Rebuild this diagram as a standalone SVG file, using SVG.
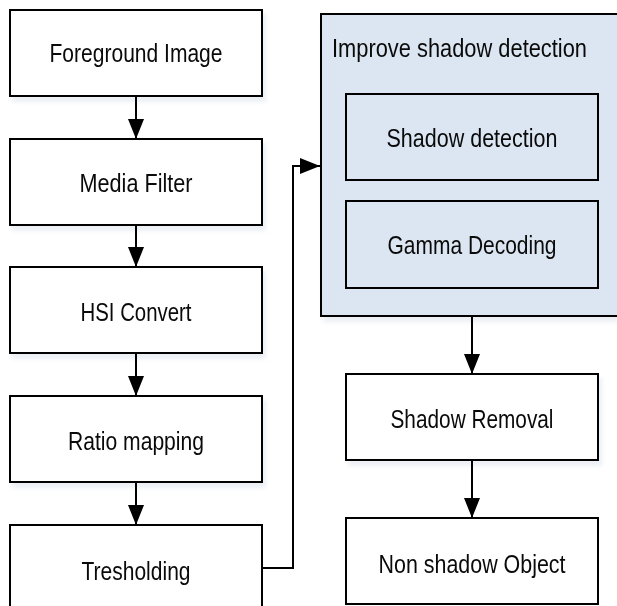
<svg xmlns="http://www.w3.org/2000/svg" width="617" height="606" viewBox="0 0 617 606">
  <style>
    .box { fill: #ffffff; stroke: #000000; stroke-width: 2; }
    .group { fill: #dce6f2; stroke: #000000; stroke-width: 2; }
    .inner { fill: #dce6f2; stroke: #000000; stroke-width: 2; }
    .shadow { fill: #dfe6ef; opacity: 0.6; }
    .label { font-family: "Liberation Sans Narrow", "Liberation Sans", Arial, sans-serif; font-size: 26px; fill: #0a0a0a; }
    .wire { fill: none; stroke: #000000; stroke-width: 2; }
  </style>
  <defs>
    <marker id="arrow" markerUnits="userSpaceOnUse" markerWidth="21" markerHeight="18" refX="20" refY="9" orient="auto">
      <path d="M0,1 L20,9 L0,17 Z" fill="#000000"/>
    </marker>
    <filter id="soft" x="-10%" y="-10%" width="120%" height="130%">
      <feGaussianBlur stdDeviation="2"/>
    </filter>
  </defs>

  <rect width="617" height="606" fill="#ffffff"/>

  <!-- soft drop shadows under the boxes -->
  <g filter="url(#soft)">
    <rect class="shadow" x="12" y="14" width="254" height="88"/>
    <rect class="shadow" x="12" y="143" width="254" height="88"/>
    <rect class="shadow" x="12" y="271" width="254" height="88"/>
    <rect class="shadow" x="12" y="400" width="254" height="88"/>
    <rect class="shadow" x="323" y="18" width="296" height="304"/>
    <rect class="shadow" x="348" y="378" width="254" height="88"/>
  </g>

  <!-- left processing chain -->
  <g id="foreground-image">
    <rect class="box" x="10" y="10" width="252" height="86"/>
    <text class="label" x="136" y="62" text-anchor="middle" textLength="173" lengthAdjust="spacingAndGlyphs">Foreground Image</text>
  </g>
  <g id="media-filter">
    <rect class="box" x="10" y="139" width="252" height="86"/>
    <text class="label" x="136" y="192" text-anchor="middle" textLength="113" lengthAdjust="spacingAndGlyphs">Media Filter</text>
  </g>
  <g id="hsi-convert">
    <rect class="box" x="10" y="267" width="252" height="86"/>
    <text class="label" x="136" y="321" text-anchor="middle" textLength="111" lengthAdjust="spacingAndGlyphs">HSI Convert</text>
  </g>
  <g id="ratio-mapping">
    <rect class="box" x="10" y="396" width="252" height="86"/>
    <text class="label" x="136" y="450" text-anchor="middle" textLength="136" lengthAdjust="spacingAndGlyphs">Ratio mapping</text>
  </g>
  <g id="tresholding">
    <rect class="box" x="10" y="525" width="252" height="86"/>
    <text class="label" x="136" y="580" text-anchor="middle" textLength="109" lengthAdjust="spacingAndGlyphs">Tresholding</text>
  </g>

  <!-- shadow detection group -->
  <g id="improve-shadow-detection">
    <rect class="group" x="321" y="14" width="297" height="302"/>
    <text class="label" x="332" y="57" textLength="255" lengthAdjust="spacingAndGlyphs">Improve shadow detection</text>
  </g>
  <g id="shadow-detection">
    <rect class="inner" x="346" y="94" width="252" height="86"/>
    <text class="label" x="472" y="147" text-anchor="middle" textLength="171" lengthAdjust="spacingAndGlyphs">Shadow detection</text>
  </g>
  <g id="gamma-decoding">
    <rect class="inner" x="346" y="201" width="252" height="87"/>
    <text class="label" x="472" y="254" text-anchor="middle" textLength="169" lengthAdjust="spacingAndGlyphs">Gamma Decoding</text>
  </g>

  <!-- right output chain -->
  <g id="shadow-removal">
    <rect class="box" x="346" y="374" width="252" height="86"/>
    <text class="label" x="472" y="428" text-anchor="middle" textLength="163" lengthAdjust="spacingAndGlyphs">Shadow Removal</text>
  </g>
  <g id="non-shadow-object">
    <rect class="box" x="346" y="518" width="252" height="86"/>
    <text class="label" x="472" y="573" text-anchor="middle" textLength="187" lengthAdjust="spacingAndGlyphs">Non shadow Object</text>
  </g>

  <!-- connectors -->
  <g id="connectors">
    <path class="wire" d="M136,96 V139" marker-end="url(#arrow)"/>
    <path class="wire" d="M136,225 V267" marker-end="url(#arrow)"/>
    <path class="wire" d="M136,353 V396" marker-end="url(#arrow)"/>
    <path class="wire" d="M136,482 V525" marker-end="url(#arrow)"/>
    <path class="wire" d="M262,568 H293 V166 H320" marker-end="url(#arrow)"/>
    <path class="wire" d="M472,316 V374" marker-end="url(#arrow)"/>
    <path class="wire" d="M472,460 V518" marker-end="url(#arrow)"/>
  </g>
</svg>
